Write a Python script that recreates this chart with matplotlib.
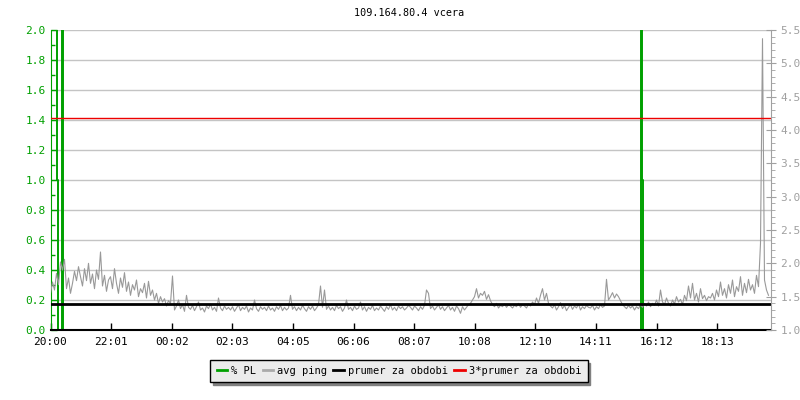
import numpy as np
import matplotlib
matplotlib.use("Agg")
import matplotlib.pyplot as plt
from matplotlib.lines import Line2D

# time axis labels (minutes since 20:00)
tick_labels = ["20:00", "22:01", "00:02", "02:03", "04:05", "06:06",
               "08:07", "10:08", "12:10", "14:11", "16:12", "18:13"]
tick_step = 121.2

# packet loss (%), step data
pl_t = [0, 12, 14, 22, 24, 1180, 1182, 1184, 1440]
pl_v = [2.0, 1.0, 0.0, 2.0, 0.0, 2.0, 1.0, 0.0, 0.0]

# avg ping, one value every 4 minutes
ping = [
    1.55, 1.72, 1.60, 1.85, 1.68, 2.02, 1.90, 2.06, 1.62, 1.78, 1.55, 1.70, 1.88, 1.74, 1.95,
    1.80, 1.66, 1.92, 1.74, 2.00, 1.70, 1.84, 1.62, 1.90, 1.76, 2.17, 1.66, 1.82, 1.58, 1.75,
    1.80, 1.62, 1.92, 1.70, 1.55, 1.78, 1.64, 1.86, 1.58, 1.72, 1.52, 1.68, 1.60, 1.75, 1.50,
    1.62, 1.56, 1.70, 1.48, 1.73, 1.52, 1.60, 1.45, 1.55, 1.40, 1.50, 1.42, 1.47, 1.36, 1.44,
    1.40, 1.81, 1.30, 1.36, 1.45, 1.32, 1.38, 1.28, 1.52, 1.34, 1.31, 1.37, 1.29, 1.35, 1.42,
    1.30, 1.33, 1.27, 1.36, 1.32, 1.39, 1.30, 1.34, 1.28, 1.48, 1.33, 1.29, 1.36, 1.31, 1.34,
    1.30, 1.35, 1.28, 1.33, 1.38, 1.29, 1.34, 1.31, 1.36, 1.27, 1.33, 1.30, 1.45, 1.32, 1.28,
    1.35, 1.31, 1.34, 1.29, 1.36, 1.30, 1.33, 1.28, 1.35, 1.31, 1.37, 1.29, 1.34, 1.30, 1.33,
    1.52, 1.31, 1.35, 1.29, 1.34, 1.30, 1.37, 1.32, 1.28, 1.35, 1.31, 1.36, 1.29, 1.33, 1.38,
    1.66, 1.34, 1.60, 1.31, 1.36, 1.30, 1.34, 1.29, 1.37, 1.32, 1.35, 1.28, 1.33, 1.45, 1.31,
    1.34, 1.29, 1.36, 1.31, 1.33, 1.42, 1.30, 1.35, 1.28, 1.34, 1.31, 1.37, 1.29, 1.33, 1.30,
    1.36, 1.32, 1.28, 1.35, 1.31, 1.38, 1.30, 1.34, 1.29, 1.36, 1.32, 1.35, 1.30, 1.33, 1.37,
    1.34, 1.30, 1.36, 1.33, 1.29, 1.35, 1.31, 1.37, 1.60, 1.55, 1.32, 1.36, 1.30, 1.34, 1.38,
    1.31, 1.35, 1.29, 1.33, 1.37, 1.30, 1.34, 1.28, 1.36, 1.32, 1.25, 1.35, 1.30, 1.34, 1.38,
    1.40, 1.45, 1.50, 1.62, 1.48, 1.55, 1.52, 1.58, 1.46, 1.53, 1.44, 1.38, 1.35, 1.40, 1.33,
    1.37, 1.35, 1.39, 1.34, 1.38, 1.36, 1.33, 1.37, 1.35, 1.40, 1.34, 1.38, 1.36, 1.33, 1.39,
    1.36, 1.42, 1.38, 1.48, 1.40, 1.52, 1.62, 1.45, 1.55, 1.40, 1.36, 1.33, 1.38, 1.30, 1.35,
    1.41, 1.32, 1.37, 1.29, 1.34, 1.38, 1.31, 1.36, 1.33, 1.39, 1.30, 1.35, 1.32, 1.37, 1.34,
    1.33, 1.37, 1.30, 1.35, 1.32, 1.38, 1.34, 1.36, 1.76, 1.45, 1.50, 1.56, 1.48, 1.54, 1.50,
    1.44, 1.38, 1.35, 1.32, 1.37, 1.33, 1.36, 1.30, 1.35, 1.32, 1.38, 1.34, 1.40, 1.36, 1.42,
    1.35, 1.40, 1.37, 1.45, 1.36, 1.60, 1.42, 1.38, 1.48, 1.40, 1.36, 1.45, 1.39, 1.50, 1.42,
    1.46, 1.38, 1.52, 1.44, 1.66, 1.48, 1.70, 1.45, 1.55, 1.42, 1.62, 1.47, 1.52, 1.44, 1.50,
    1.48, 1.55, 1.45, 1.60, 1.50, 1.72, 1.52, 1.62, 1.48, 1.68, 1.55, 1.75, 1.50, 1.65, 1.58,
    1.80, 1.52, 1.70, 1.56, 1.76, 1.60, 1.68, 1.55, 1.82, 1.65, 2.30, 5.37, 1.75, 1.60, 1.52,
]
ping_t = np.arange(len(ping)) * 4

avg_ping = 1.395
avg3_ping = 3 * avg_ping

GREEN = "#00a000"
GRAY = "#999999"
RED = "#ee0000"

plt.rcParams["font.family"] = "DejaVu Sans Mono"
plt.rcParams["font.size"] = 7.2

fig = plt.figure(figsize=(8, 4), dpi=100)
ax = fig.add_axes([50.5 / 800, 70 / 400, 720 / 800, 300 / 400])
ax2 = ax.twinx()

# left axis: packet loss
ax.step(pl_t, pl_v, where="post", color=GREEN, lw=1.4)
ax.set_ylim(0, 2.0)
ax.set_xlim(0, 1440)
ax.set_yticks(np.arange(0, 2.01, 0.2))
ax.set_yticks(np.arange(0.1, 2.0, 0.2), minor=True)
ax.set_yticklabels([f"{v:.1f}" for v in np.arange(0, 2.01, 0.2)])
ax.tick_params(axis="y", which="both", direction="in", colors=GREEN, length=4, width=1, labelsize=8)
ax.tick_params(axis="y", which="minor", length=3)
ax.grid(axis="y", color="#c4c4c4", lw=1)
ax.set_xticks([i * tick_step for i in range(len(tick_labels))])
ax.set_xticklabels(tick_labels)
ax.tick_params(axis="x", direction="in", length=5, width=1, colors="black", pad=5, labelsize=8)
ax.spines["left"].set_color(GREEN)
ax.spines["bottom"].set_color("black")
ax.spines["bottom"].set_linewidth(1.5)
ax.spines["top"].set_visible(False)
ax.spines["right"].set_visible(False)

# right axis: avg ping
ax2.plot(ping_t, ping, color=GRAY, lw=0.8)
ax2.axhline(avg_ping, color="black", lw=2)
ax2.axhline(avg3_ping, color=RED, lw=1)
ax2.set_ylim(1.0, 5.5)
ax2.set_yticks(np.arange(1.0, 5.51, 0.5))
ax2.set_yticks(np.arange(1.0, 5.51, 0.1), minor=True)
ax2.set_yticklabels([f"{v:.1f}" for v in np.arange(1.0, 5.51, 0.5)])
ax2.tick_params(axis="y", which="major", direction="inout", length=7, colors="#a0a0a0", labelsize=8)
ax2.tick_params(axis="y", which="minor", direction="out", length=3, color="#a0a0a0")
for s in ["left", "top", "bottom"]:
    ax2.spines[s].set_visible(False)
ax2.spines["right"].set_color("#a0a0a0")

fig.text(409 / 800, 1 - 13 / 400, "109.164.80.4 vcera", ha="center", va="center", fontsize=7.3)

handles = [Line2D([], [], color=GREEN, lw=2),
           Line2D([], [], color="#aaaaaa", lw=2),
           Line2D([], [], color="black", lw=2),
           Line2D([], [], color=RED, lw=2)]
labels = ["% PL", "avg ping", "prumer za obdobi", "3*prumer za obdobi"]
leg = fig.legend(handles, labels, loc="center", bbox_to_anchor=(399 / 800, 1 - 371 / 400),
                 ncol=4, handlelength=1.0, handletextpad=0.4, columnspacing=0.6,
                 frameon=True, fancybox=False, borderpad=0.6, fontsize=7.5,
                 shadow={"color": "#808080", "alpha": 1.0})
leg.get_frame().set_edgecolor("black")
leg.get_frame().set_facecolor("#ebebeb")
leg.get_frame().set_linewidth(1)

fig.savefig("out.png", dpi=100)
